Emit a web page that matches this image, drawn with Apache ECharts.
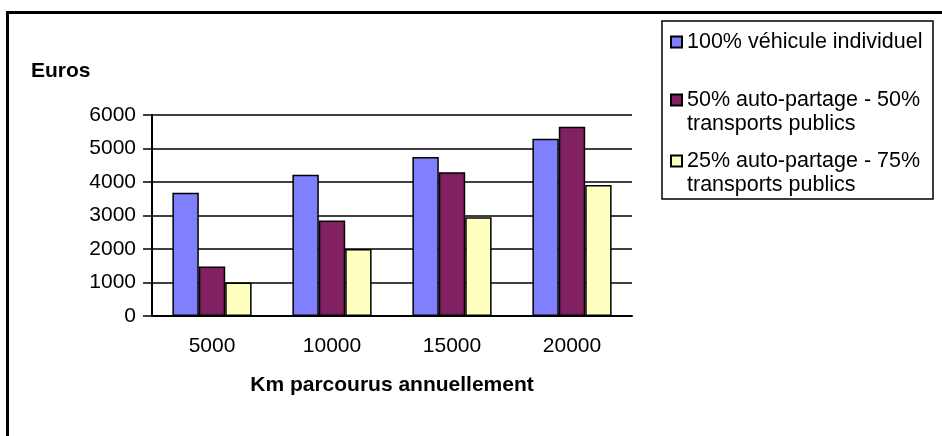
<!DOCTYPE html>
<html>
<head>
<meta charset="utf-8">
<script src="https://cdn.jsdelivr.net/npm/echarts@6/dist/echarts.min.js"></script>
<style>
  html, body { margin: 0; padding: 0; background: #fff; }
  #chart { width: 942px; height: 436px; }
</style>
</head>
<body>
<div id="chart"></div>
<script>
// valeurs (euros par an)
var categories = ['5000', '10000', '15000', '20000'];
var vehiculeIndividuel = [3680, 4220, 4750, 5290];
var autoPartage50 = [1480, 2850, 4290, 5650];
var autoPartage25 = [1000, 2000, 2950, 3910];
var yMin = 0, yMax = 6000, yStep = 1000;

var names = [
  '100% véhicule individuel',
  '50% auto-partage - 50%\ntransports publics',
  '25% auto-partage - 75%\ntransports publics'
];
var colors = ['#8080ff', '#802060', '#ffffc0'];

var font = 'Liberation Sans';
var chart = echarts.init(document.getElementById('chart'));

function legendAt(name, top, twoLines) {
  return {
    data: [name],
    orient: 'vertical',
    left: 670,
    top: top,
    padding: 0,
    icon: 'rect',
    itemWidth: 11,
    itemHeight: 11,
    selectedMode: false,
    // une ligne vide devant pour que le carré reste sur la première ligne
    formatter: twoLines ? function (n) { return ' \n' + n; } : '{name}',
    textStyle: { fontFamily: font, fontSize: 21.5, color: '#000', lineHeight: 24 }
  };
}

function barSeries(i, data) {
  return {
    name: names[i],
    type: 'bar',
    data: data,
    barGap: '0%',
    barCategoryGap: '34%',
    itemStyle: { color: colors[i], borderColor: '#000', borderWidth: 1.5 }
  };
}

var option = {
  animation: false,
  title: {
    text: 'Euros',
    left: 31,
    top: 61,
    padding: 0,
    textStyle: { fontFamily: font, fontSize: 21, fontWeight: 'bold', color: '#000' }
  },
  legend: [
    legendAt(names[0], 30, false),
    legendAt(names[1], 64, true),
    legendAt(names[2], 125, true)
  ],
  grid: { left: 152, right: 310, top: 115, bottom: 120, containLabel: false },
  xAxis: [{
    type: 'category',
    data: categories,
    axisLine: { lineStyle: { color: '#000', width: 2 } },
    axisTick: { length: 7, lineStyle: { color: '#000', width: 1.5 } },
    axisLabel: { fontFamily: font, fontSize: 21, color: '#000', margin: 20 },
    name: 'Km parcourus annuellement',
    nameLocation: 'middle',
    nameGap: 59,
    nameTextStyle: { fontFamily: font, fontSize: 21, fontWeight: 'bold', color: '#000' }
  }, {
    // graduations vers l'intérieur (repères croisés)
    type: 'category',
    data: categories,
    position: 'bottom',
    axisLine: { show: false },
    axisTick: { inside: true, length: 8, lineStyle: { color: '#000', width: 1.5 } },
    axisLabel: { show: false },
    splitLine: { show: false }
  }],
  yAxis: {
    type: 'value',
    min: yMin,
    max: yMax,
    interval: yStep,
    axisLine: { show: true, lineStyle: { color: '#000', width: 2 } },
    axisTick: { show: true, length: 9, lineStyle: { color: '#000', width: 1.5 } },
    axisLabel: {
      fontFamily: font, fontSize: 21, color: '#000', margin: 16,
      formatter: function (v) { return String(v); }
    },
    splitLine: { lineStyle: { color: '#000', width: 1.5 } }
  },
  series: [
    barSeries(0, vehiculeIndividuel),
    barSeries(1, autoPartage50),
    barSeries(2, autoPartage25)
  ],
  graphic: [
    {
      type: 'polyline',
      shape: { points: [[7.5, 440], [7.5, 12.5], [945, 12.5]] },
      style: { stroke: '#000', lineWidth: 3, fill: null }
    },
    {
      type: 'rect',
      shape: { x: 662, y: 21, width: 271, height: 178 },
      style: { stroke: '#000', lineWidth: 1.5, fill: null }
    }
  ]
};

chart.setOption(option);
</script>
</body>
</html>
